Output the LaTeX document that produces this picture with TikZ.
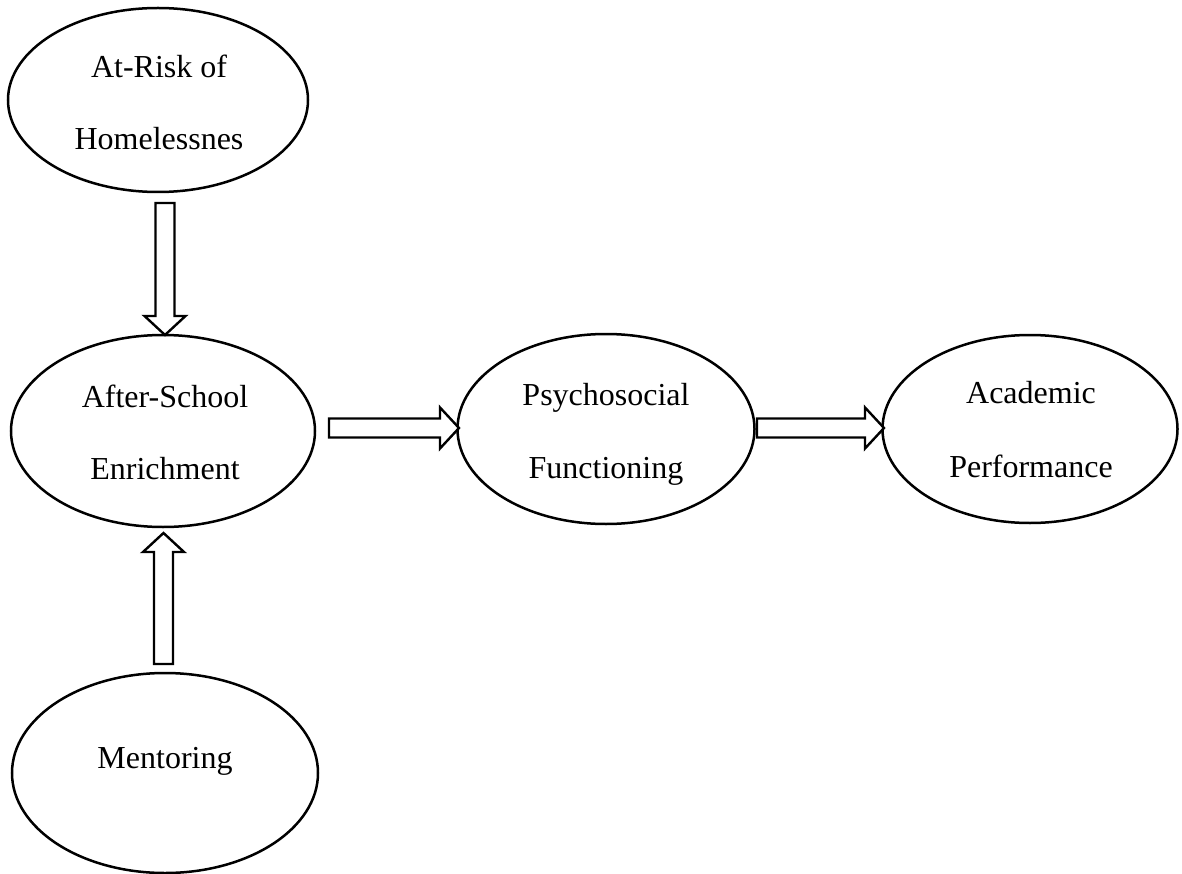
\documentclass[tikz,border=0pt]{standalone}
\usepackage{fontspec}
\setmainfont{Liberation Serif}
\usetikzlibrary{shapes.geometric,calc}
\newcommand\blockarrow[2]{%
  \coordinate (hb) at ($(#2)!19pt!(#1)$);
  \draw[barrow] ($(#1)!9.5pt!90:(#2)$) -- ($(hb)!9.5pt!-90:(#1)$) -- ($(hb)!20.5pt!-90:(#1)$)
    -- (#2) -- ($(hb)!20.5pt!90:(#1)$) -- ($(hb)!9.5pt!90:(#1)$) -- ($(#1)!9.5pt!-90:(#2)$) -- cycle;
}
\begin{document}
\begin{tikzpicture}[x=1pt,y=-1pt,
  ell/.style={draw, ellipse, line width=2.5pt, inner sep=0pt},
  lbl/.style={anchor=base, inner sep=0pt, font=\fontsize{32}{32}\selectfont},
  barrow/.style={draw, line width=2.4pt, fill=white, line join=miter}]
\useasboundingbox (0,0) rectangle (1182,874);
\node[ell, minimum width=300pt, minimum height=184pt] (A) at (158,100) {};
\node[ell, minimum width=304pt, minimum height=192pt] (B) at (163,431) {};
\node[ell, minimum width=297pt, minimum height=190pt] (C) at (606,429) {};
\node[ell, minimum width=295pt, minimum height=188pt] (D) at (1030,429) {};
\node[ell, minimum width=306pt, minimum height=200pt] (E) at (165,773) {};

\node[lbl] (A1) at (159,78) {At-Risk of};
\node[lbl] (A2) at (159,150) {Homelessnes};
\node[lbl] (B1) at (165,407) {After-School};
\node[lbl] (B2) at (165,479) {Enrichment};
\node[lbl] (C1) at (606,405) {Psychosocial};
\node[lbl] (C2) at (606,478) {Functioning};
\node[lbl] (D1) at (1031,403) {Academic};
\node[lbl] (D2) at (1031,477) {Performance};
\node[lbl] (E1) at (165,768) {Mentoring};

\coordinate (dT) at (165,203);
\coordinate (dH) at (165,335);
\coordinate (uT) at (163.5,664);
\coordinate (uH) at (163.5,533);
\coordinate (h1T) at (329,428);
\coordinate (h1H) at (459,428);
\coordinate (h2T) at (757,428);
\coordinate (h2H) at (884,428);
\blockarrow{dT}{dH}
\blockarrow{uT}{uH}
\blockarrow{h1T}{h1H}
\blockarrow{h2T}{h2H}
\end{tikzpicture}
\end{document}
